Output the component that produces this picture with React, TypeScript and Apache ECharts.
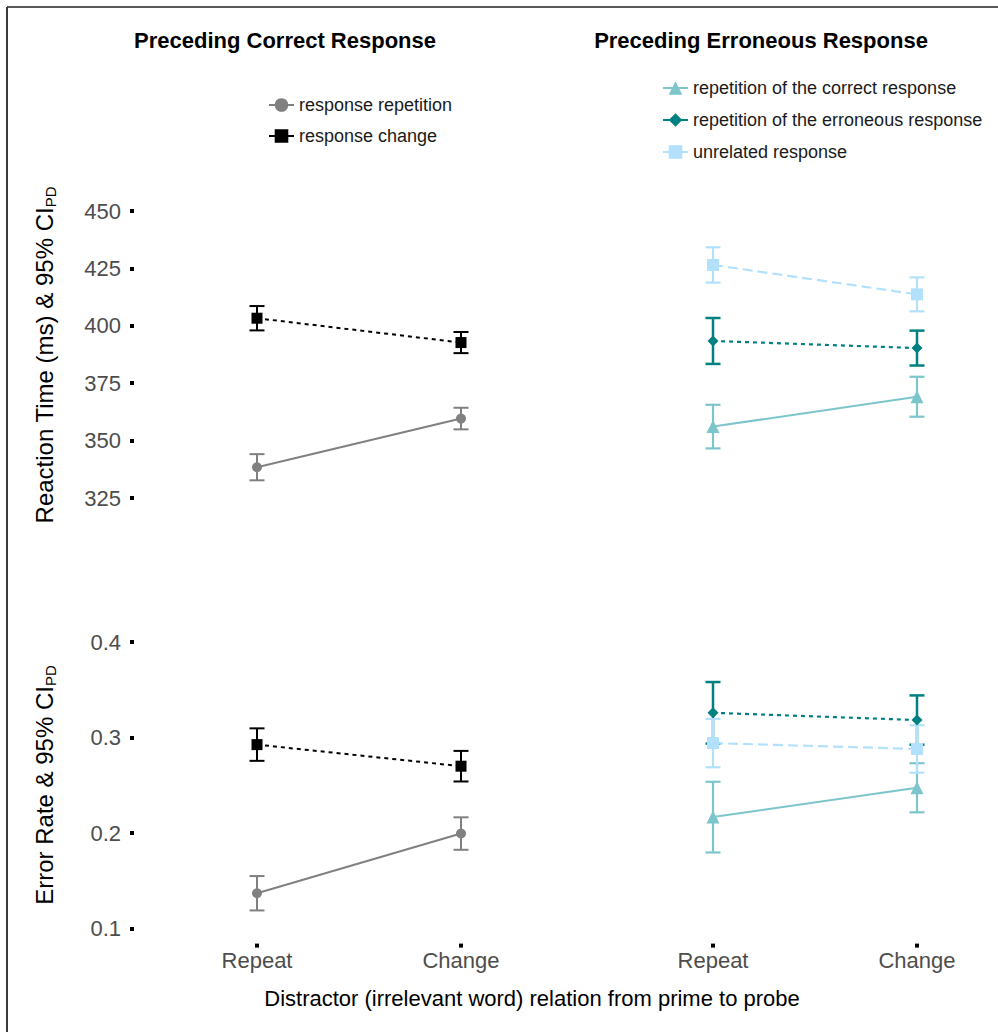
import React, { useEffect, useRef } from "react";
import * as echarts from "echarts";

// ---------- data ----------
const categories = ["Repeat", "Change"];
const panelTitles = ["Preceding Correct Response", "Preceding Erroneous Response"];
const xAxisTitle = "Distractor (irrelevant word) relation from prime to probe";

const seriesNames = [
  "response repetition",
  "response change",
  "repetition of the correct response",
  "repetition of the erroneous response",
  "unrelated response",
];

// Reaction time (ms) means and 95% CI half-widths
const rtRepetition = [338.4, 359.6];
const rtRepetitionCI = [5.7, 4.7];
const rtChange = [403.3, 392.7];
const rtChangeCI = [5.3, 4.6];
const rtRepCorrect = [356.1, 369.1];
const rtRepCorrectCI = [9.5, 8.7];
const rtRepError = [393.4, 390.3];
const rtRepErrorCI = [10.0, 7.6];
const rtUnrelated = [426.5, 413.7];
const rtUnrelatedCI = [7.7, 7.4];

// Error rate means and 95% CI half-widths
const erRepetition = [0.137, 0.1995];
const erRepetitionCI = [0.018, 0.017];
const erChange = [0.2926, 0.27];
const erChangeCI = [0.017, 0.016];
const erRepCorrect = [0.2167, 0.2474];
const erRepCorrectCI = [0.037, 0.0257];
const erRepError = [0.3259, 0.3183];
const erRepErrorCI = [0.0322, 0.0258];
const erUnrelated = [0.2942, 0.288];
const erUnrelatedCI = [0.0253, 0.0248];

// ---------- styles ----------
const FONT = "Liberation Sans, Arial, sans-serif";
const C_GRAY = "#808080";
const C_BLACK = "#000000";
const C_LTEAL = "#7cc6cb";
const C_TEAL = "#008080";
const C_LBLUE = "#b3e1fc";

type Style = { color: string; symbol: string; size: number; dash: any; width: number; ebWidth: number };
const styles: Record<string, Style> = {
  "response repetition": { color: C_GRAY, symbol: "circle", size: 10, dash: "solid", width: 2, ebWidth: 2 },
  "response change": { color: C_BLACK, symbol: "rect", size: 11, dash: [4, 4], width: 2, ebWidth: 2 },
  "repetition of the correct response": { color: C_LTEAL, symbol: "triangle", size: 13, dash: "solid", width: 2, ebWidth: 2.2 },
  "repetition of the erroneous response": { color: C_TEAL, symbol: "diamond", size: 11, dash: [4, 4], width: 2.2, ebWidth: 2.5 },
  "unrelated response": { color: C_LBLUE, symbol: "rect", size: 12, dash: [10, 5], width: 2.2, ebWidth: 2.2 },
};

function lineSeries(name: string, data: number[], idx: number) {
  const s = styles[name];
  return {
    type: "line",
    name,
    xAxisIndex: idx,
    yAxisIndex: idx,
    data,
    symbol: s.symbol,
    symbolSize: s.size,
    itemStyle: { color: s.color },
    lineStyle: { color: s.color, width: s.width, type: s.dash },
    z: 3,
    silent: true,
  };
}

function errorSeries(name: string, means: number[], cis: number[], idx: number) {
  const s = styles[name];
  return {
    type: "custom",
    name: name + " CI",
    xAxisIndex: idx,
    yAxisIndex: idx,
    z: 2,
    silent: true,
    clip: false,
    data: means.map((m, i) => [i, m - cis[i], m + cis[i]]),
    encode: { x: 0, y: [1, 2] },
    renderItem: (params: any, api: any) => {
      const x = api.value(0);
      const pLo = api.coord([x, api.value(1)]);
      const pHi = api.coord([x, api.value(2)]);
      const hw = 7.5;
      const st = { stroke: s.color, lineWidth: s.ebWidth };
      return {
        type: "group",
        children: [
          { type: "line", shape: { x1: pLo[0], y1: pLo[1], x2: pHi[0], y2: pHi[1] }, style: st },
          { type: "line", shape: { x1: pLo[0] - hw, y1: pLo[1], x2: pLo[0] + hw, y2: pLo[1] }, style: st },
          { type: "line", shape: { x1: pHi[0] - hw, y1: pHi[1], x2: pHi[0] + hw, y2: pHi[1] }, style: st },
        ],
      };
    },
  };
}

export default function App() {
  const ref = useRef<HTMLDivElement>(null);

  useEffect(() => {
    if (!ref.current) return;
    const chart = echarts.init(ref.current, null, { renderer: "svg" });

    // left panels: categories centred in a wide grid; right panels: categories at grid edges
    const grids = [
      { left: 155, top: 211, width: 408, height: 287 },
      { left: 713, top: 211, width: 204, height: 287 },
      { left: 155, top: 642, width: 408, height: 286.6 },
      { left: 713, top: 642, width: 204, height: 286.6 },
    ];

    const xAxes = grids.map((_, i) => ({
      type: "category",
      gridIndex: i,
      data: categories,
      boundaryGap: i % 2 === 0,
      show: i >= 2,
      offset: 15,
      axisLine: { show: false },
      axisTick: { show: true, alignWithLabel: true, length: 4, lineStyle: { color: "#000", width: 4 } },
      axisLabel: { fontFamily: FONT, fontSize: 22, color: "#4d4d4d", margin: 6 },
      splitLine: { show: false },
    }));

    const yAxes = grids.map((_, i) => {
      const rt = i < 2;
      return {
        type: "value",
        gridIndex: i,
        min: rt ? 325 : 0.1,
        max: rt ? 450 : 0.4,
        interval: rt ? 25 : 0.1,
        show: i % 2 === 0,
        offset: 21,
        axisLine: { show: false },
        axisTick: { show: true, length: 4, lineStyle: { color: "#000", width: 4 } },
        axisLabel: {
          fontFamily: FONT,
          fontSize: 22,
          color: "#4d4d4d",
          margin: 13,
          formatter: (v: number) => (rt ? String(Math.round(v)) : v.toFixed(1)),
        },
        splitLine: { show: false },
      };
    });

    const series: any[] = [
      lineSeries("response repetition", rtRepetition, 0),
      lineSeries("response change", rtChange, 0),
      lineSeries("repetition of the correct response", rtRepCorrect, 1),
      lineSeries("repetition of the erroneous response", rtRepError, 1),
      lineSeries("unrelated response", rtUnrelated, 1),
      lineSeries("response repetition", erRepetition, 2),
      lineSeries("response change", erChange, 2),
      lineSeries("repetition of the correct response", erRepCorrect, 3),
      lineSeries("repetition of the erroneous response", erRepError, 3),
      lineSeries("unrelated response", erUnrelated, 3),
      errorSeries("response repetition", rtRepetition, rtRepetitionCI, 0),
      errorSeries("response change", rtChange, rtChangeCI, 0),
      errorSeries("repetition of the correct response", rtRepCorrect, rtRepCorrectCI, 1),
      errorSeries("repetition of the erroneous response", rtRepError, rtRepErrorCI, 1),
      errorSeries("unrelated response", rtUnrelated, rtUnrelatedCI, 1),
      errorSeries("response repetition", erRepetition, erRepetitionCI, 2),
      errorSeries("response change", erChange, erChangeCI, 2),
      errorSeries("repetition of the correct response", erRepCorrect, erRepCorrectCI, 3),
      errorSeries("repetition of the erroneous response", erRepError, erRepErrorCI, 3),
      errorSeries("unrelated response", erUnrelated, erUnrelatedCI, 3),
    ];

    const legendText = { fontFamily: FONT, fontSize: 18, color: "#1a1a1a", lineHeight: 18 };

    const yTitle = (main: string, x: number, y: number) => ({
      type: "text",
      x,
      y,
      rotation: Math.PI / 2,
      style: {
        text: `{m|${main}}{s|PD}`,
        align: "center",
        verticalAlign: "middle",
        rich: {
          m: { fontFamily: FONT, fontSize: 24, lineHeight: 28, fill: "#000" },
          s: { fontFamily: FONT, fontSize: 15, lineHeight: 15, verticalAlign: "bottom", fill: "#000" },
        },
      },
    });

    chart.setOption({
      animation: false,
      backgroundColor: "#ffffff",
      grid: grids,
      xAxis: xAxes,
      yAxis: yAxes,
      legend: [
        {
          data: seriesNames.slice(0, 2),
          orient: "vertical",
          left: 263,
          top: 91,
          itemWidth: 25,
          itemHeight: 17,
          itemGap: 13,
          textStyle: legendText,
          lineStyle: { type: "solid" },
          selectedMode: false,
        },
        {
          data: seriesNames.slice(2),
          orient: "vertical",
          left: 657,
          top: 74,
          itemWidth: 25,
          itemHeight: 17,
          itemGap: 14,
          textStyle: legendText,
          lineStyle: { type: "solid" },
          selectedMode: false,
        },
      ],
      graphic: [
        { type: "line", shape: { x1: 7, y1: 7, x2: 998, y2: 7 }, style: { stroke: "#5a5a5a", lineWidth: 2 } },
        { type: "line", shape: { x1: 7, y1: 7, x2: 7, y2: 1032 }, style: { stroke: "#3a3a3a", lineWidth: 2 } },
        {
          type: "text",
          x: 285,
          y: 40,
          style: { text: panelTitles[0], font: `bold 22px ${FONT}`, fill: "#000", align: "center", verticalAlign: "middle" },
        },
        {
          type: "text",
          x: 761,
          y: 40,
          style: { text: panelTitles[1], font: `bold 22px ${FONT}`, fill: "#000", align: "center", verticalAlign: "middle" },
        },
        {
          type: "text",
          x: 532,
          y: 998,
          style: { text: xAxisTitle, font: `22px ${FONT}`, fill: "#000", align: "center", verticalAlign: "middle" },
        },
        yTitle("Reaction Time (ms) & 95% CI", 44, 355),
        yTitle("Error Rate & 95% CI", 44, 785),
      ],
      series,
    });

    return () => chart.dispose();
  }, []);

  return (
    <div
      ref={ref}
      style={{ position: "fixed", left: 0, top: 0, width: 998, height: 1032, background: "#fff" }}
    />
  );
}
